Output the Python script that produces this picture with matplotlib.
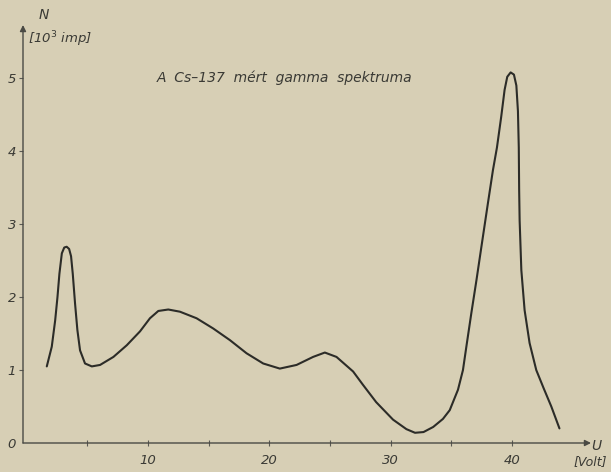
import matplotlib
matplotlib.use("Agg")
import matplotlib.pyplot as plt

# Read-off points of the measured Cs-137 gamma spectrum
U_volt = [1.66, 2.07, 2.35, 2.54, 2.70, 2.90, 3.10, 3.30, 3.50, 3.66, 3.80, 3.99,
          4.18, 4.40, 4.81, 5.37, 6.05, 7.15, 8.25, 9.34, 10.16, 10.85, 11.67,
          12.63, 14.0, 15.37, 16.75, 18.12, 19.49, 20.86, 22.24, 23.6, 24.57,
          25.53, 26.9, 27.7, 28.8, 30.19, 31.29, 32.0, 32.7, 33.5, 34.3, 34.86,
          35.54, 35.95, 36.23, 36.64, 37.06, 37.47, 38.0, 38.42, 38.75, 39.1,
          39.38, 39.6, 39.88, 40.15, 40.35, 40.48, 40.55, 40.58, 40.62, 40.76,
          41.03, 41.44, 41.99, 42.6, 43.23, 43.9]
N_kimp = [1.05, 1.32, 1.68, 2.00, 2.32, 2.60, 2.68, 2.69, 2.66, 2.56, 2.32, 1.91,
          1.55, 1.27, 1.09, 1.05, 1.07, 1.18, 1.34, 1.53, 1.71, 1.81, 1.83,
          1.80, 1.71, 1.57, 1.41, 1.23, 1.09, 1.02, 1.07, 1.18, 1.24,
          1.18, 0.98, 0.80, 0.56, 0.32, 0.19, 0.14, 0.15, 0.22, 0.33, 0.45,
          0.73, 1.00, 1.32, 1.78, 2.23, 2.69, 3.28, 3.74, 4.05, 4.47,
          4.84, 5.02, 5.08, 5.05, 4.90, 4.55, 4.05, 3.47, 3.05, 2.37,
          1.82, 1.37, 1.00, 0.75, 0.50, 0.20]

x_ticks = [10, 20, 30, 40]
x_minor = [5, 15, 25, 35]
y_ticks = [0, 1, 2, 3, 4, 5]
title = "A  Cs–137  mért  gamma  spektruma"

paper = "#d7cfb5"
ink = "#2c2c28"
txt = "#3a3a35"

W, H = 611, 472
fig = plt.figure(figsize=(W / 100, H / 100), dpi=100, facecolor=paper)
ax = fig.add_axes([23 / W, (H - 443) / H, 568 / W, 418 / H])
ax.set_facecolor(paper)
ax.set_xlim(-0.3, 46.5)
ax.set_ylim(0, 5.73)

ax.plot(U_volt, N_kimp, color=ink, lw=1.5, solid_joinstyle="round",
        solid_capstyle="round")

for s in ax.spines.values():
    s.set_visible(False)

# axes with arrows
arrow_kw = dict(arrowstyle="-|>", lw=1.0, color="#4a4a44",
                mutation_scale=9, shrinkA=0, shrinkB=0)
ax.annotate("", xy=(1, 0), xytext=(0, 0), xycoords="axes fraction",
            arrowprops=arrow_kw, annotation_clip=False)
ax.annotate("", xy=(0, 1), xytext=(0, 0), xycoords="axes fraction",
            arrowprops=arrow_kw, annotation_clip=False)

ax.set_xticks(x_ticks)
ax.set_xticklabels([str(v) for v in x_ticks])
ax.set_xticks(x_minor, minor=True)
ax.set_yticks(y_ticks)
ax.set_yticklabels([str(v) for v in y_ticks])
ax.tick_params(axis="x", which="both", direction="inout", length=4, width=0.8,
               color="#5a5a54", pad=6, labelsize=9.5, labelcolor=txt)
ax.tick_params(axis="y", direction="out", length=3, width=0.8,
               color="#5a5a54", pad=2, labelsize=9.5, labelcolor=txt)
for lab in ax.get_xticklabels() + ax.get_yticklabels():
    lab.set_fontstyle("italic")
ax.yaxis.get_major_ticks()[0].tick1line.set_visible(False)

# axis labels and title
fig.text(596 / W, 1 - 446 / H, "U", fontsize=10, style="italic", color=txt,
         ha="center", va="center")
fig.text(590 / W, 1 - 462 / H, "[Volt]", fontsize=9, style="italic", color=txt,
         ha="center", va="center")
fig.text(44 / W, 1 - 15 / H, "N", fontsize=10, style="italic", color=txt,
         ha="center", va="center")
fig.text(60 / W, 1 - 39 / H, r"[10$^{3}$ imp]", fontsize=9.5, style="italic",
         color=txt, ha="center", va="center")
fig.text(285 / W, 1 - 78 / H, title, fontsize=10, style="italic", color=txt,
         ha="center", va="center")

fig.savefig("out.png", dpi=100, facecolor=paper)
